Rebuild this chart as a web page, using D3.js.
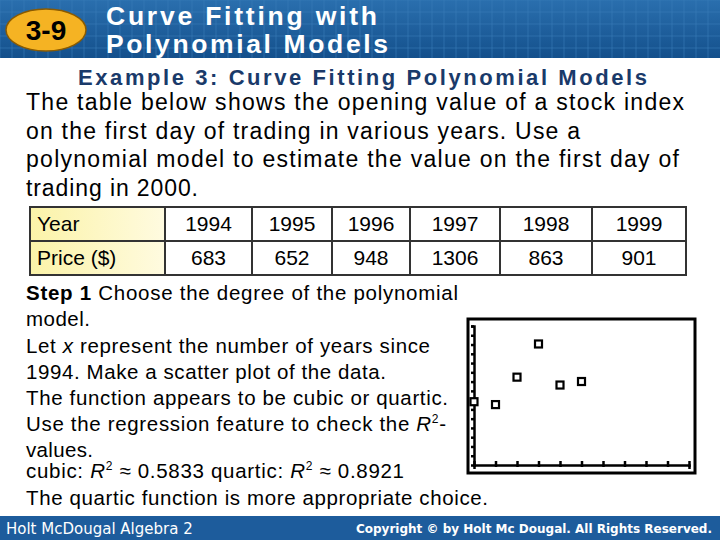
<!DOCTYPE html><html><head><meta charset="utf-8"><script src="https://cdn.jsdelivr.net/npm/d3@7"></script>
<style>body{margin:0}svg{font-family:"Liberation Sans",Arial,sans-serif}</style></head><body><svg id="s" width="720" height="540"></svg>
<script>
const years=["1994","1995","1996","1997","1998","1999"];
const prices=[683,652,948,1306,863,901];
const xVals=[0,1,2,3,4,5];
const svg=d3.select("#s");
svg.append("rect").attr("width",720).attr("height",540).attr("fill","#fff");
const defs=svg.append("defs");
const g=defs.append("linearGradient").attr("id","hb").attr("x1",0).attr("x2",0).attr("y1",0).attr("y2",1);
g.append("stop").attr("offset",0).attr("stop-color","#2a6fae");g.append("stop").attr("offset",1).attr("stop-color","#14508c");
svg.append("rect").attr("width",720).attr("height",58).attr("fill","url(#hb)");
for(let i=0;i<720;i+=12)svg.append("line").attr("x1",i).attr("x2",i).attr("y1",0).attr("y2",58).attr("stroke","#3b7cb8").attr("stroke-width",0.6);
for(let j=0;j<58;j+=12)svg.append("line").attr("x1",0).attr("x2",720).attr("y1",j).attr("y2",j).attr("stroke","#3b7cb8").attr("stroke-width",0.6);
svg.append("ellipse").attr("cx",46).attr("cy",30).attr("rx",40).attr("ry",21).attr("fill","#f5b323").attr("stroke","#8a5a00").attr("stroke-width",1.5);
svg.append("text").attr("x",46).attr("y",40).attr("text-anchor","middle").attr("font-size",28).attr("font-weight","bold").text("3-9");
svg.append("text").attr("x",106).attr("y",25).attr("fill","#fff").attr("font-size",26.5).attr("font-weight","bold").attr("textLength",271).attr("lengthAdjust","spacing").text("Curve Fitting with");
svg.append("text").attr("x",106).attr("y",53).attr("fill","#fff").attr("font-size",26.5).attr("font-weight","bold").attr("textLength",282).attr("lengthAdjust","spacing").text("Polynomial Models");
svg.append("text").attr("x",78).attr("y",85).attr("fill","#1a3a6a").attr("font-size",22).attr("font-weight","bold").attr("textLength",569).attr("lengthAdjust","spacing").text("Example 3: Curve Fitting Polynomial Models");
const para=["The table below shows the opening value of a stock index","on the first day of trading in various years. Use a","polynomial model to estimate the value on the first day of","trading in 2000."];
const paraW=[658,554,653,172];
para.forEach((t,i)=>svg.append("text").attr("x",26).attr("y",110+i*28.5).attr("font-size",23).attr("textLength",paraW[i]).attr("lengthAdjust","spacing").text(t));
const bounds=[30,165,252,332,410,500,592,686];
const rows=[{label:"Year",vals:years,y:207},{label:"Price ($)",vals:prices.map(String),y:241}];
const yg=defs.append("linearGradient").attr("id","yg").attr("x1",0).attr("x2",1);
yg.append("stop").attr("offset",0).attr("stop-color","#fbf3a8");yg.append("stop").attr("offset",1).attr("stop-color","#fffbe0");
rows.forEach(r=>{
 svg.append("rect").attr("x",30).attr("y",r.y).attr("width",135).attr("height",34).attr("fill","url(#yg)");
 svg.append("text").attr("x",37).attr("y",r.y+24).attr("font-size",21).text(r.label);
 r.vals.forEach((v,i)=>svg.append("text").attr("x",(bounds[i+1]+bounds[i+2])/2).attr("y",r.y+24).attr("text-anchor","middle").attr("font-size",21).text(v));
});
svg.append("rect").attr("x",30).attr("y",207).attr("width",656).attr("height",68).attr("fill","none").attr("stroke","#333").attr("stroke-width",2);
svg.append("line").attr("x1",30).attr("x2",686).attr("y1",241).attr("y2",241).attr("stroke","#333").attr("stroke-width",2);
bounds.slice(1,-1).forEach(b=>svg.append("line").attr("x1",b).attr("x2",b).attr("y1",207).attr("y2",275).attr("stroke","#333").attr("stroke-width",2));
const lines=[[["Step 1","b"],[" Choose the degree of the polynomial"]],[["model."]],[["Let "],["x","i"],[" represent the number of years since"]],[["1994. Make a scatter plot of the data."]],[["The function appears to be cubic or quartic."]],[["Use the regression feature to check the "],["R","i"],["2","s"],["-"]],[["values."]],[["cubic: "],["R","i"],["2","s"],[" ≈ 0.5833 quartic: "],["R","i"],["2","s"],[" ≈ 0.8921"]],[["The quartic function is more appropriate choice."]]];
const ly=[300,326,353,379,405,431,457,478,505];
const lw=[432,64,404,360,422,420,67,378,462];
lines.forEach((l,i)=>{const t=svg.append("text").attr("x",26).attr("y",ly[i]).attr("font-size",20.5);
 let up=false;
 l.forEach(([s,f])=>{const sp=t.append("tspan").text(s);if(f==="b")sp.attr("font-weight","bold");if(f==="i")sp.attr("font-style","italic");
  if(f==="s"){sp.attr("font-size",12).attr("dy",-8);up=true;} else if(up){sp.attr("dy",8);up=false;}});
 const w=t.node().getComputedTextLength();const ex=(lw[i]-w)/Math.max(1,t.text().length-1);t.attr("letter-spacing",ex);
});
svg.append("rect").attr("x",468).attr("y",319).attr("width",227).attr("height",154).attr("fill","#fff").attr("stroke","#000").attr("stroke-width",3);
const x=d3.scaleLinear().domain([0,10]).range([474,689]);
const y=d3.scaleLinear().domain([0,1500]).range([465,326]);
const xa=svg.append("g").attr("transform","translate(0,465)").call(d3.axisTop(x).ticks(10).tickSize(-4).tickFormat(""));
const ya=svg.append("g").attr("transform","translate(474,0)").call(d3.axisRight(y).tickValues(d3.range(100,1600,100)).tickSize(-3).tickFormat(""));
[xa,ya].forEach(a=>{a.selectAll("path,line").attr("stroke","#000").attr("stroke-width",2.5);});
xa.selectAll("line").attr("y1",-4).attr("y2",2);
svg.selectAll(".pt").data(xVals).enter().append("rect").attr("x",d=>x(d)-3.5).attr("y",(d,i)=>y(prices[i])-3.5).attr("width",7).attr("height",7).attr("fill","#fff").attr("stroke","#000").attr("stroke-width",2.2);
svg.append("rect").attr("y",516).attr("width",720).attr("height",24).attr("fill","#1d5c9c");
svg.append("text").attr("x",6).attr("y",534).attr("fill","#fff").attr("font-size",15).attr("font-family","DejaVu Sans").text("Holt McDougal Algebra 2");
svg.append("text").attr("x",712).attr("y",533).attr("text-anchor","end").attr("fill","#fff").attr("font-size",12).attr("font-weight","bold").attr("font-family","DejaVu Sans").text("Copyright © by Holt Mc Dougal. All Rights Reserved.");
</script></body></html>
